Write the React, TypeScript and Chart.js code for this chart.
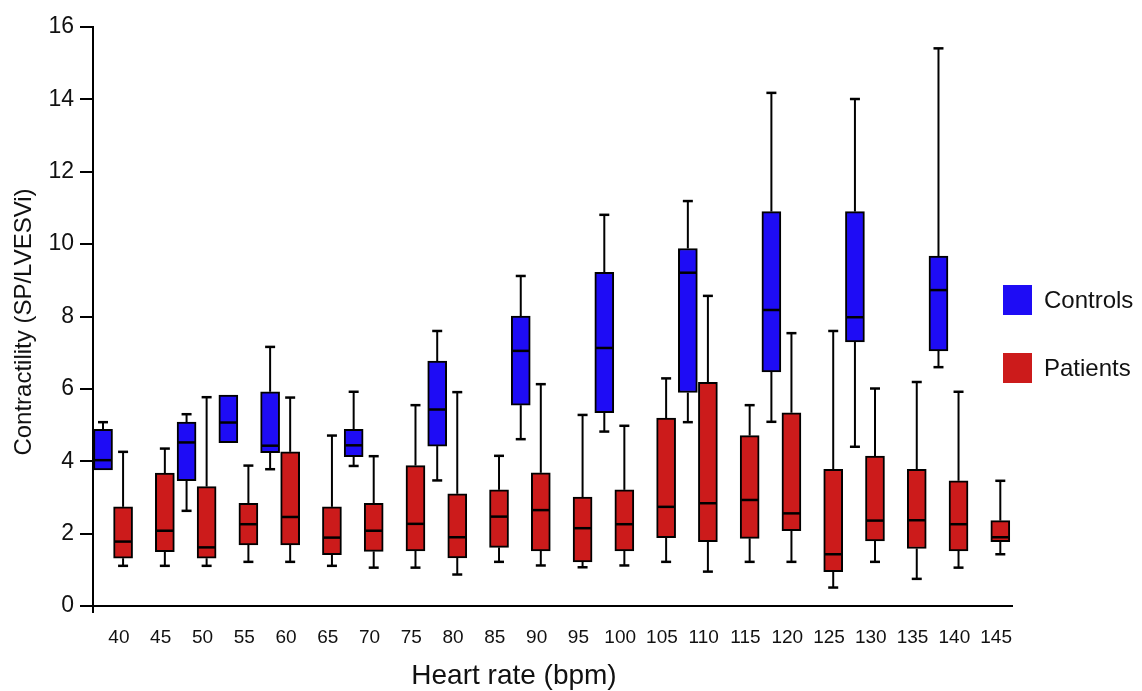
import React, { useEffect, useRef } from 'react';
import { Chart, registerables } from 'chart.js';

Chart.register(...registerables);

// ---- Data ----
const HEART_RATES = [40, 45, 50, 55, 60, 65, 70, 75, 80, 85, 90, 95, 100, 105, 110, 115, 120, 125, 130, 135, 140, 145];

// Patients (red) – one box per heart-rate category
const PAT_MIN = [1.11, 1.11, 1.11, 1.22, 1.22, 1.11, 1.06, 1.06, 0.87, 1.22, 1.12, 1.07, 1.12, 1.22, 0.95, 1.22, 1.22, 0.51, 1.22, 0.75, 1.06, 1.43];
const PAT_Q1 = [1.32, 1.50, 1.32, 1.69, 1.69, 1.42, 1.51, 1.52, 1.33, 1.62, 1.52, 1.22, 1.52, 1.89, 1.78, 1.87, 2.08, 0.95, 1.80, 1.59, 1.52, 1.78];
const PAT_MED = [1.78, 2.08, 1.62, 2.26, 2.46, 1.89, 2.08, 2.27, 1.90, 2.47, 2.65, 2.15, 2.26, 2.74, 2.84, 2.93, 2.56, 1.43, 2.36, 2.37, 2.26, 1.90];
const PAT_Q3 = [2.74, 3.67, 3.30, 2.84, 4.26, 2.74, 2.84, 3.88, 3.10, 3.21, 3.68, 3.01, 3.21, 5.19, 6.18, 4.71, 5.34, 3.78, 4.14, 3.78, 3.46, 2.36];
const PAT_MAX = [4.26, 4.35, 5.77, 3.88, 5.76, 4.71, 4.14, 5.55, 5.91, 4.15, 6.13, 5.28, 4.98, 6.29, 8.57, 5.55, 7.54, 7.60, 6.01, 6.19, 5.92, 3.46];

// Controls (blue) – only some categories
const CTL_HR = [40, 50, 55, 60, 70, 80, 90, 100, 110, 120, 130, 140];
const CTL_MIN = [3.76, 2.63, 4.51, 3.78, 3.87, 3.47, 4.61, 4.82, 5.08, 5.09, 4.40, 6.60];
const CTL_Q1 = [3.76, 3.46, 4.51, 4.24, 4.13, 4.42, 5.55, 5.34, 5.90, 6.47, 7.30, 7.05];
const CTL_MED = [4.03, 4.52, 5.07, 4.43, 4.44, 5.43, 7.05, 7.13, 9.21, 8.18, 7.98, 8.73];
const CTL_Q3 = [4.88, 5.08, 5.83, 5.92, 4.88, 6.77, 8.01, 9.22, 9.88, 10.90, 10.90, 9.67];
const CTL_MAX = [5.08, 5.30, 5.83, 7.16, 5.92, 7.60, 9.12, 10.81, 11.19, 14.18, 14.01, 15.41];

const Y_MIN = 0;
const Y_MAX = 16;
const Y_STEP = 2;

const LABEL_CONTROLS = 'Controls';
const LABEL_PATIENTS = 'Patients';
const X_TITLE = 'Heart rate (bpm)';
const Y_TITLE = 'Contractility (SP/LVESVi)';

// ---- Layout / style constants ----
const PATIENT_SHIFT = 0.5;
const CONTROL_SHIFT = -1.9;
const BLUE = '#1e0cf5';
const RED = '#cc1b1b';
const FONT = '"Liberation Sans", Arial, Helvetica, sans-serif';

Chart.defaults.font.family = FONT;

const STATS = [
  { min: CTL_MIN, med: CTL_MED, max: CTL_MAX, q1: CTL_Q1, q3: CTL_Q3 },
  { min: PAT_MIN, med: PAT_MED, max: PAT_MAX, q1: PAT_Q1, q3: PAT_Q3 },
];

const boxPlugin = {
  id: 'boxWhiskers',
  afterDatasetsDraw(chart: any) {
    const ctx = chart.ctx;
    const ys = chart.scales.y;
    ctx.save();
    ctx.strokeStyle = '#000';
    ctx.lineCap = 'butt';
    STATS.forEach((s, di) => {
      const meta = chart.getDatasetMeta(di);
      meta.data.forEach((bar: any, i: number) => {
        const { x, width } = bar.getProps(['x', 'width'], true);
        const half = width / 2;
        const cap = 5;
        const yMax = ys.getPixelForValue(s.max[i]);
        const yQ3 = ys.getPixelForValue(s.q3[i]);
        const yQ1 = ys.getPixelForValue(s.q1[i]);
        const yMin = ys.getPixelForValue(s.min[i]);
        const yMed = ys.getPixelForValue(s.med[i]);
        ctx.lineWidth = 2;
        if (s.max[i] > s.q3[i]) {
          ctx.beginPath();
          ctx.moveTo(x, yQ3);
          ctx.lineTo(x, yMax);
          ctx.stroke();
          ctx.lineWidth = 2.5;
          ctx.beginPath();
          ctx.moveTo(x - cap, yMax);
          ctx.lineTo(x + cap, yMax);
          ctx.stroke();
        }
        ctx.lineWidth = 2;
        if (s.min[i] < s.q1[i]) {
          ctx.beginPath();
          ctx.moveTo(x, yQ1);
          ctx.lineTo(x, yMin);
          ctx.stroke();
          ctx.lineWidth = 2.5;
          ctx.beginPath();
          ctx.moveTo(x - cap, yMin);
          ctx.lineTo(x + cap, yMin);
          ctx.stroke();
        }
        ctx.lineWidth = 2.5;
        ctx.beginPath();
        ctx.moveTo(x - half + 1, yMed);
        ctx.lineTo(x + half - 1, yMed);
        ctx.stroke();
      });
    });
    ctx.restore();
  },
};

const decorPlugin = {
  id: 'decor',
  afterDraw(chart: any) {
    const ctx = chart.ctx;
    const area = chart.chartArea;
    ctx.save();
    // y-axis stub below the x axis
    ctx.strokeStyle = '#000';
    ctx.lineWidth = 2;
    ctx.beginPath();
    ctx.moveTo(area.left, area.bottom);
    ctx.lineTo(area.left, area.bottom + 7);
    ctx.stroke();

    // legend
    const items = chart.data.datasets;
    const legendX = 1003;
    const legendY = [285, 353];
    items.forEach((ds: any, i: number) => {
      ctx.fillStyle = ds.backgroundColor;
      ctx.fillRect(legendX, legendY[i], 29, 30);
      ctx.fillStyle = '#111';
      ctx.font = `24px ${FONT}`;
      ctx.textBaseline = 'middle';
      ctx.textAlign = 'left';
      ctx.fillText(ds.label, legendX + 41, legendY[i] + 16);
    });

    // axis titles
    ctx.fillStyle = '#111';
    ctx.font = `28px ${FONT}`;
    ctx.textAlign = 'center';
    ctx.textBaseline = 'middle';
    ctx.fillText(X_TITLE, 514, 676);

    ctx.translate(24, 322);
    ctx.rotate(-Math.PI / 2);
    ctx.font = `24px ${FONT}`;
    ctx.fillText(Y_TITLE, 0, 0);
    ctx.restore();
  },
};

export default function App() {
  const ref = useRef<HTMLCanvasElement>(null);
  useEffect(() => {
    const canvas = ref.current;
    if (!canvas) return;
    const chart = new Chart(canvas, {
      type: 'bar',
      data: {
        datasets: [
          {
            label: LABEL_CONTROLS,
            data: CTL_HR.map((hr, i) => ({ x: hr + CONTROL_SHIFT, y: [CTL_Q1[i], CTL_Q3[i]] })) as any,
            backgroundColor: BLUE,
            borderColor: '#000',
            borderWidth: 2,
            borderSkipped: false,
            barThickness: 19,
            grouped: false,
          } as any,
          {
            label: LABEL_PATIENTS,
            data: HEART_RATES.map((hr, i) => ({ x: hr + PATIENT_SHIFT, y: [PAT_Q1[i], PAT_Q3[i]] })) as any,
            backgroundColor: RED,
            borderColor: '#000',
            borderWidth: 2,
            borderSkipped: false,
            barThickness: 19,
            grouped: false,
          } as any,
        ],
      },
      options: {
        responsive: false,
        animation: false,
        layout: { padding: { top: 27, right: 130, bottom: 0, left: 0 } },
        plugins: { legend: { display: false }, tooltip: { enabled: false } },
        scales: {
          x: {
            type: 'linear',
            offset: false,
            min: 36.9,
            max: 146.9,
            afterFit: (s: any) => { s.height = 85; },
            afterBuildTicks: (s: any) => { s.ticks = HEART_RATES.map((v) => ({ value: v })); },
            grid: { display: true, drawOnChartArea: false, drawTicks: false, offset: false },
            border: { display: true, color: '#000', width: 2 },
            ticks: { autoSkip: false, maxRotation: 0, minRotation: 0, padding: 20, color: '#111', font: { size: 19 } },
          },
          y: {
            type: 'linear',
            min: Y_MIN,
            max: Y_MAX,
            afterFit: (s: any) => { s.width = 93; },
            ticks: { stepSize: Y_STEP, padding: 6, color: '#111', font: { size: 23 } },
            grid: { drawOnChartArea: false, drawTicks: true, tickLength: 13, color: '#000', lineWidth: 2 },
            border: { display: true, color: '#000', width: 2 },
          },
        },
      } as any,
      plugins: [boxPlugin, decorPlugin],
    });
    return () => chart.destroy();
  }, []);
  return (
    <div style={{ position: 'fixed', left: 0, top: 0, width: 1142, height: 691, background: '#fff' }}>
      <canvas ref={ref} width={1142} height={691} style={{ display: 'block' }} />
    </div>
  );
}
